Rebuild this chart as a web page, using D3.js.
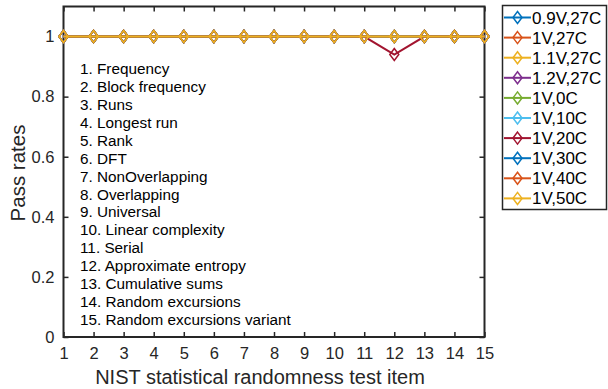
<!DOCTYPE html>
<html>
<head>
<meta charset="utf-8">
<script src="https://cdn.jsdelivr.net/npm/d3@7"></script>
<style>
  html, body { margin: 0; padding: 0; background: #fff; }
  svg { display: block; font-family: "Liberation Sans", Arial, Helvetica, sans-serif; }
</style>
</head>
<body>
<svg id="chart" width="608" height="389"></svg>
<script>
// Test items 1..15
const items = d3.range(1, 16);
const seriesNames = ["0.9V,27C", "1V,27C", "1.1V,27C", "1.2V,27C", "1V,0C",
                     "1V,10C", "1V,20C", "1V,30C", "1V,40C", "1V,50C"];
const seriesColors = ["#0072BD", "#D95319", "#EDB120", "#7E2F8E", "#77AC30",
                      "#4DBEEE", "#A2142F", "#0072BD", "#D95319", "#EDB120"];
// Pass rates per series, one value per test item
const rates_09V_27C = [1,1,1,1,1,1,1,1,1,1,1,1,1,1,1];
const rates_1V_27C  = [1,1,1,1,1,1,1,1,1,1,1,1,1,1,1];
const rates_11V_27C = [1,1,1,1,1,1,1,1,1,1,1,1,1,1,1];
const rates_12V_27C = [1,1,1,1,1,1,1,1,1,1,1,1,1,1,1];
const rates_1V_0C   = [1,1,1,1,1,1,1,1,1,1,1,1,1,1,1];
const rates_1V_10C  = [1,1,1,1,1,1,1,1,1,1,1,1,1,1,1];
const rates_1V_20C  = [1,1,1,1,1,1,1,1,1,1,1,0.94,1,1,1];
const rates_1V_30C  = [1,1,1,1,1,1,1,1,1,1,1,1,1,1,1];
const rates_1V_40C  = [1,1,1,1,1,1,1,1,1,1,1,1,1,1,1];
const rates_1V_50C  = [1,1,1,1,1,1,1,1,1,1,1,1,1,1,1];
const seriesValues = [rates_09V_27C, rates_1V_27C, rates_11V_27C, rates_12V_27C, rates_1V_0C,
                      rates_1V_10C, rates_1V_20C, rates_1V_30C, rates_1V_40C, rates_1V_50C];
const yTicks = [0, 0.2, 0.4, 0.6, 0.8, 1];
const testNames = ["1. Frequency", "2. Block frequency", "3. Runs", "4. Longest run", "5. Rank",
                   "6. DFT", "7. NonOverlapping", "8. Overlapping", "9. Universal",
                   "10. Linear complexity", "11. Serial", "12. Approximate entropy",
                   "13. Cumulative sums", "14. Random excursions", "15. Random excursions variant"];

const svg = d3.select("#chart");
const plotL = 63.5, plotR = 484.5, plotT = 6.5, plotB = 337;
const axisColor = "#262626";

const x = d3.scaleLinear().domain([1, 15]).range([plotL, plotR]);
const y = d3.scaleLinear().domain([0, 1.1]).range([plotB, plotT]);

// Axes: ticks pointing inward, box on all four sides
const gx = svg.append("g").attr("transform", `translate(0,${plotB})`)
  .call(d3.axisBottom(x).tickValues(items).tickFormat(d3.format("d")).tickSizeInner(-5).tickSizeOuter(0).tickPadding(10));
const gxTop = svg.append("g").attr("transform", `translate(0,${plotT})`)
  .call(d3.axisTop(x).tickValues(items).tickFormat("").tickSizeInner(-5).tickSizeOuter(0));
const gy = svg.append("g").attr("transform", `translate(${plotL},0)`)
  .call(d3.axisLeft(y).tickValues(yTicks).tickFormat(d => d === 0 || d === 1 ? d3.format("d")(d) : d3.format(".1f")(d)).tickSizeInner(-5).tickSizeOuter(0).tickPadding(9));
const gyR = svg.append("g").attr("transform", `translate(${plotR},0)`)
  .call(d3.axisRight(y).tickValues(yTicks).tickFormat("").tickSizeInner(-5).tickSizeOuter(0));

[gx, gxTop, gy, gyR].forEach(g => {
  g.select(".domain").remove();
  g.selectAll("line").attr("stroke", axisColor).attr("stroke-width", 1.5);
  g.selectAll("text").attr("fill", axisColor).style("font-size", "16.5px")
    .style("font-family", "'Liberation Sans', Arial, sans-serif");
});

svg.append("rect").attr("x", plotL).attr("y", plotT)
  .attr("width", plotR - plotL).attr("height", plotB - plotT)
  .attr("fill", "none").attr("stroke", axisColor).attr("stroke-width", 2);

// Axis labels
svg.append("text").attr("x", 260).attr("y", 384)
  .attr("text-anchor", "middle").attr("fill", axisColor).style("font-size", "20px")
  .text("NIST statistical randomness test item");
svg.append("text").attr("transform", `translate(24.5,173) rotate(-90)`)
  .attr("text-anchor", "middle").attr("fill", axisColor).style("font-size", "20.5px")
  .text("Pass rates");

// Test name list inside the plot area
svg.append("g").selectAll("text").data(testNames).join("text")
  .attr("x", 80).attr("y", (d, i) => 74 + i * 17.93)
  .attr("fill", "#000").style("font-size", "15.3px")
  .text(d => d);

// Series lines and diamond markers
const line = d3.line().x((d, i) => x(items[i])).y(d => y(d));
const diamond = (cx, cy, w, h) => `M${cx},${cy - h}L${cx + w},${cy}L${cx},${cy + h}L${cx - w},${cy}Z`;

seriesValues.forEach((vals, s) => {
  const g = svg.append("g");
  g.append("path").attr("d", line(vals)).attr("fill", "none")
    .attr("stroke", seriesColors[s]).attr("stroke-width", 2);
  g.selectAll("path.m").data(vals).join("path").attr("class", "m")
    .attr("d", (d, i) => diamond(x(items[i]), y(d), 4.5, 6))
    .attr("fill", "none").attr("stroke", seriesColors[s]).attr("stroke-width", 1.5);
});

// Legend
const lg = svg.append("g");
lg.append("rect").attr("x", 502.5).attr("y", 5.5).attr("width", 104).attr("height", 204)
  .attr("fill", "#fff").attr("stroke", axisColor).attr("stroke-width", 1.5);
seriesNames.forEach((name, s) => {
  const cy = 17.5 + s * 20.1;
  lg.append("line").attr("x1", 504).attr("x2", 531).attr("y1", cy).attr("y2", cy)
    .attr("stroke", seriesColors[s]).attr("stroke-width", 2);
  lg.append("path").attr("d", diamond(517.5, cy, 4.5, 6))
    .attr("fill", "none").attr("stroke", seriesColors[s]).attr("stroke-width", 1.5);
  lg.append("text").attr("x", 532).attr("y", cy + 6).attr("fill", "#000")
    .style("font-size", "17px").text(name);
});
</script>
</body>
</html>
